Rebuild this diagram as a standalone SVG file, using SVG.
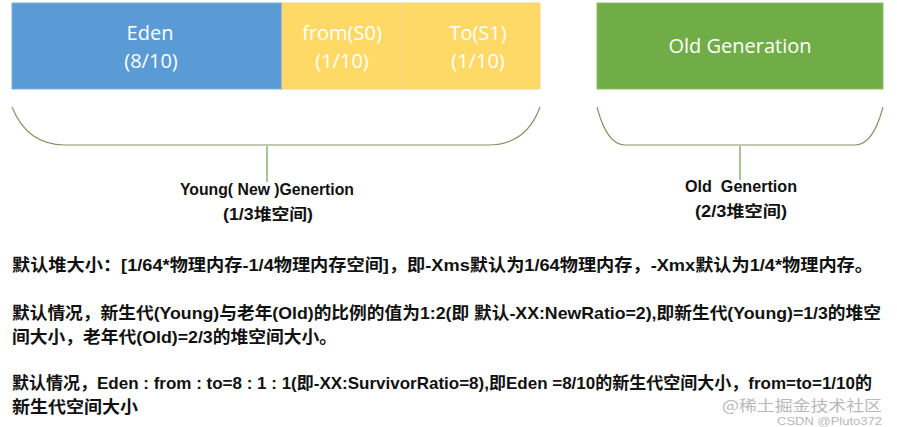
<svg xmlns="http://www.w3.org/2000/svg" width="897" height="427" viewBox="0 0 897 427">
<style>
.box-t{font-family:"Open Sans","Noto Sans",sans-serif;font-size:20px;fill:#ffffff;text-anchor:middle}
.lbl{font-family:"Liberation Sans","Noto Sans CJK SC",sans-serif;font-size:16px;font-weight:bold;fill:#111;text-anchor:middle}
.body{font-family:"Liberation Sans","Noto Sans CJK SC",sans-serif;font-size:17px;font-weight:bold;fill:#111}
.brace{fill:none;stroke:#8a9164;stroke-width:1.2}
.stem{fill:none;stroke:#6f9a4c;stroke-width:1.2}
.wm{font-family:"Noto Sans CJK SC","Liberation Sans",sans-serif;fill:#b8b8b8}
.wm2{font-family:"Liberation Sans","Noto Sans",sans-serif;fill:#b8b8b8}
</style>
<rect width="897" height="427" fill="#ffffff"/>
<g id="eden">
<rect x="12" y="3" width="270" height="86" fill="#5b9bd5" stroke="#7aaedd" stroke-width="1"/>
<text class="box-t" x="150" y="40">Eden</text>
<text class="box-t" x="151" y="68">(8/10)</text>
</g>
<g id="from">
<rect x="282" y="3" width="120" height="86" fill="#ffd966" stroke="#f0d48a" stroke-width="1"/>
<text class="box-t" x="342" y="40">from(S0)</text>
<text class="box-t" x="342" y="68">(1/10)</text>
</g>
<g id="to">
<rect x="402" y="3" width="138" height="86" fill="#ffd966" stroke="#f0d48a" stroke-width="1"/>
<text class="box-t" x="478" y="40">To(S1)</text>
<text class="box-t" x="478" y="68">(1/10)</text>
</g>
<g id="old">
<rect x="597" y="3" width="286" height="86" fill="#70ad47" stroke="#8cbd6b" stroke-width="1"/>
<text class="box-t" x="740" y="53">Old Generation</text>
</g>
<g id="connectors">
<path class="brace" d="M12,107 C22,132 40,145 65,145 L488,145 C513,145 531,132 540,107"/>
<path class="stem" d="M267,146 L267,182"/>
<path class="brace" d="M597,107 C603,130 612,145 625,145 L855,145 C868,145 877,130 883,107"/>
<path class="stem" d="M740,146 L740,180"/>
</g>
<g id="young-label">
<text class="lbl" x="267" y="195" textLength="174" lengthAdjust="spacingAndGlyphs">Young( New )Genertion</text>
<text class="lbl" x="268" y="220" textLength="90" lengthAdjust="spacingAndGlyphs">(1/3堆空间)</text>
</g>
<g id="old-label">
<text class="lbl" x="741" y="192" xml:space="preserve" textLength="112" lengthAdjust="spacingAndGlyphs">Old  Genertion</text>
<text class="lbl" x="741" y="217" textLength="92" lengthAdjust="spacingAndGlyphs">(2/3堆空间)</text>
</g>
<g id="notes">
<text class="body" x="12" y="271" textLength="861" lengthAdjust="spacingAndGlyphs">默认堆大小：[1/64*物理内存-1/4物理内存空间]，即-Xms默认为1/64物理内存，-Xmx默认为1/4*物理内存。</text>
<text class="body" x="12" y="319" textLength="869" lengthAdjust="spacingAndGlyphs">默认情况，新生代(Young)与老年(Old)的比例的值为1:2(即 默认-XX:NewRatio=2),即新生代(Young)=1/3的堆空</text>
<text class="body" x="12" y="343" textLength="325" lengthAdjust="spacingAndGlyphs">间大小，老年代(Old)=2/3的堆空间大小。</text>
<text class="body" x="12" y="389" textLength="860" lengthAdjust="spacingAndGlyphs">默认情况，Eden : from : to=8 : 1 : 1(即-XX:SurvivorRatio=8),即Eden =8/10的新生代空间大小，from=to=1/10的</text>
<text class="body" x="12" y="413" textLength="126" lengthAdjust="spacingAndGlyphs">新生代空间大小</text>
</g>
<g id="watermark">
<text class="wm" x="722" y="411" font-size="15" textLength="160" lengthAdjust="spacingAndGlyphs">@稀土掘金技术社区</text>
<text class="wm2" x="777" y="425" font-size="10" textLength="105" lengthAdjust="spacingAndGlyphs">CSDN @Pluto372</text>
</g>
</svg>
